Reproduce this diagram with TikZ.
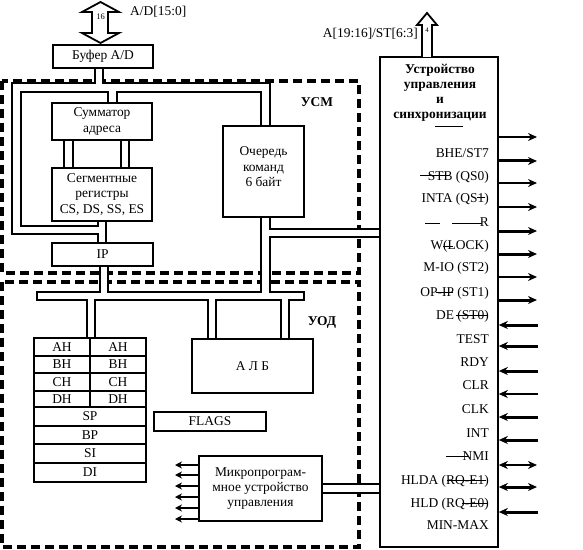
\documentclass[tikz,border=0pt]{standalone}
\usepackage{fontspec}
\setmainfont{Liberation Serif}
\usetikzlibrary{arrows.meta}
\pgfdeclarelayer{bg}
\pgfsetlayers{bg,main}
\newcommand\busnet[1]{%
 \draw[#1] (fj) -- (fl) -- (tl) -- (tr) -- (tr |- que.north);
 \draw[#1] (s1) -- (s1 |- buf.south);
 \draw[#1] (s2) -- (s2 |- sum.north);
 \draw[#1] (s3 |- sum.south) -- (s3 |- seg.north);
 \draw[#1] (s4 |- sum.south) -- (s4 |- seg.north);
 \draw[#1] (fj |- seg.south) -- (fj |- ip.north);
 \draw[#1] (s6 |- ip.south) -- (s6);
 \draw[#1] (tr |- que.south) -- (tr |- s6);
 \draw[#1] (s10) -- (s10 -| ctl.west);
 \draw[#1] (s7) -- (s7 |- regs.north);
 \draw[#1] (s8) -- (s8 |- alu.north);
 \draw[#1] (s9) -- (s9 |- alu.north);
 \draw[#1] (mic.east) -- (mic.east -| ctl.west);
}
\begin{document}
\begin{tikzpicture}[x=1bp,y=-1bp,
 box/.style={draw,line width=1.6bp,fill=white,inner sep=1bp,font=\fontsize{13.5}{15.5}\selectfont,align=center},
 dbox/.style={line width=3.2bp,dash pattern=on 9bp off 5bp},
 busb/.style={line width=10.5bp,line join=miter,black},
 busw/.style={line width=6.5bp,line join=miter,white},
 txt/.style={font=\fontsize{13.5}{15.5}\selectfont,inner sep=0pt},
 sig/.style={txt,anchor=base east},
 strk/.style={line width=1bp},
 tip/.style={-{Stealth[length=9bp,width=8bp]}},
 dtip/.style={{Stealth[length=9bp,width=8bp]}-{Stealth[length=9bp,width=8bp]}},
 mtip/.style={line width=2.4bp,-{Stealth[length=7bp,width=7bp]}},
]
\useasboundingbox (0,0) rectangle (583,550);

% boxes
\node[box,minimum width=100bp,minimum height=23bp] (buf) at (103,56.5) {Буфер A/D};
\node[box,minimum width=100bp,minimum height=37bp,font=\fontsize{13.5}{16.5}\selectfont] (sum) at (102,121.5) {Сумматор\\адреса};
\node[box,minimum width=100bp,minimum height=53bp] (seg) at (102,194.5) {Сегментные\\регистры\\CS, DS, SS, ES};
\node[box,minimum width=81bp,minimum height=91bp] (que) at (263.5,171.5) {};
\node[txt,align=center] (quet) at (263.5,167) {Очередь\\команд\\6 байт};
\node[box,minimum width=101bp,minimum height=23bp] (ip) at (102.5,254.5) {IP};
\node[box,minimum width=121bp,minimum height=54bp] (alu) at (252.5,366) {А Л Б};
\node[box,minimum width=112bp,minimum height=19bp] (flags) at (210,421.5) {FLAGS};
\node[box,minimum width=123bp,minimum height=65bp] (mic) at (260.5,488.5) {Микропрограм-\\мное устройство\\управления};
\node[box,minimum width=118bp,minimum height=490bp] (ctl) at (439,302) {};
\node[box,minimum width=112bp,minimum height=144bp] (regs) at (90,410) {};

% register table
\foreach \y in {356,373,391,407,426,444,463} \draw[line width=1.6bp] (34,\y) -- (146,\y);
\draw[line width=1.6bp] (90,338) -- (90,407);
\foreach \t/\y [count=\i] in {AH/347,BH/364.5,CH/382,DH/399} {
  \node[txt] (rl\i) at (62,\y) {\t};
  \node[txt] (rr\i) at (118,\y) {\t};
}
\foreach \t/\y [count=\i] in {SP/416.5,BP/435,SI/453.5,DI/472.5} \node[txt] (rw\i) at (90,\y) {\t};

% buses and dashed frames
\coordinate (tl) at (16.5,87.5);
\coordinate (tr) at (265.5,87.5);
\coordinate (fl) at (16.5,230);
\coordinate (fj) at (102,230);
\coordinate (s1) at (99,87.5);
\coordinate (s2) at (112.5,87.5);
\coordinate (s3) at (68.5,140);
\coordinate (s4) at (125,140);
\coordinate (s6) at (104,296);
\coordinate (s7) at (91,296);
\coordinate (s8) at (212,296);
\coordinate (s9) at (285,296);
\coordinate (s10) at (265.5,233);
\begin{pgfonlayer}{bg}
\draw[dbox] (2,81) rectangle (359,273);
\draw[dbox] (2,282) rectangle (359,547);
\busnet{busb}
\draw[busb] (36,296) -- (305,296);
\busnet{busw}
\draw[busw] (38,296) -- (303,296);
\end{pgfonlayer}

% unit labels
\node[txt,font=\fontsize{13.5}{15}\selectfont\bfseries] (usm) at (317,102) {УСМ};
\node[txt,font=\fontsize{13.5}{15}\selectfont\bfseries] (uod) at (322,322) {УОД};

% top bus arrow
\draw[line width=1.8bp,fill=white,line join=miter] (92,12) -- (82,12) -- (100.5,2) -- (119,12) -- (108,12) -- (108,33) -- (119,33) -- (100.5,43) -- (82,33) -- (92,33) -- cycle;
\node[txt,font=\fontsize{8.5}{9}\selectfont] (n16) at (100.5,17) {16};
\node[txt,anchor=west] (adl) at (130,12) {A/D[15:0]};

% address/status arrow
\draw[line width=1.8bp,fill=white,line join=miter] (422,57) -- (422,25) -- (417,25) -- (427,13) -- (437,25) -- (432,25) -- (432,57);
\node[txt,font=\fontsize{7}{8}\selectfont] (n4) at (427,30) {4};
\node[txt,anchor=east] (ast) at (418,34) {A[19:16]/ST[6:3]};

% control unit title
\node[txt,font=\fontsize{13.5}{15}\selectfont\bfseries,align=center] (ttl) at (440,93) {Устройство\\управления\\и\\синхронизации};
\draw[strk] (435,127) -- (463,127);

% signals
\node[sig] (l1) at (489,157.5) {BHE/ST7};
\node[sig] (l2) at (489,180.5) {STB (QS0)};
\node[sig] (l3) at (489,202.5) {INTA (QS1)};
\node[sig] (l4) at (489,226.5) {R};
\node[sig] (l5) at (489,249.5) {W(LOCK)};
\node[sig] (l6) at (489,271.5) {M-IO (ST2)};
\node[sig] (l7) at (489,296.5) {OP-IP (ST1)};
\node[sig] (l8) at (489,319.5) {DE (ST0)};
\node[sig] (l9) at (489,343.5) {TEST};
\node[sig] (l10) at (489,366.5) {RDY};
\node[sig] (l11) at (489,389.5) {CLR};
\node[sig] (l12) at (489,413.5) {CLK};
\node[sig] (l13) at (489,437.5) {INT};
\node[sig] (l14) at (489,460.5) {NMI};
\node[sig] (l15) at (489,484.5) {HLDA (RQ-E1)};
\node[sig] (l16) at (489,507.5) {HLD (RQ-E0)};
\node[sig] (l17) at (489,529.5) {MIN-MAX};

% misplaced bars
\draw[strk] (420,176) -- (450,176);
\draw[strk] (477,198) -- (485,198);
\draw[strk] (425,223) -- (440,223);
\draw[strk] (452,223) -- (482,223);
\draw[strk] (443,246) -- (453,246);
\draw[strk] (436,292) -- (453,292);
\draw[strk] (456,315) -- (487,315);
\draw[strk] (446,456) -- (468,456);
\draw[strk] (447,480) -- (486,480);
\draw[strk] (462,503) -- (487,503);

% control arrows
\foreach \y/\w [count=\i] in {137/1.5bp,161/3bp,183/1.5bp,207/1.5bp,231/3bp,254/3bp,277/1.5bp,300/3bp} {
  \coordinate (o\i) at (537,\y);
  \draw[line width=\w,tip] (ctl.east |- o\i) -- (o\i);
}
\foreach \y/\w [count=\i] in {325/3bp,346/3bp,371/3bp,394/1.5bp,417/3bp,440/3bp,512/3bp} {
  \coordinate (n\i) at (538,\y);
  \draw[line width=\w,tip] (n\i) -- (ctl.east |- n\i);
}
\foreach \y/\w [count=\i] in {465/1.5bp,487/3bp} {
  \coordinate (d\i) at (537,\y);
  \draw[line width=\w,dtip] (ctl.east |- d\i) -- (d\i);
}

% microprogram outputs
\foreach \y [count=\i] in {465,475,486,497,508,519} {
  \coordinate (m\i) at (175,\y);
  \draw[mtip] (mic.west |- m\i) -- (m\i);
}
\end{tikzpicture}
\end{document}
